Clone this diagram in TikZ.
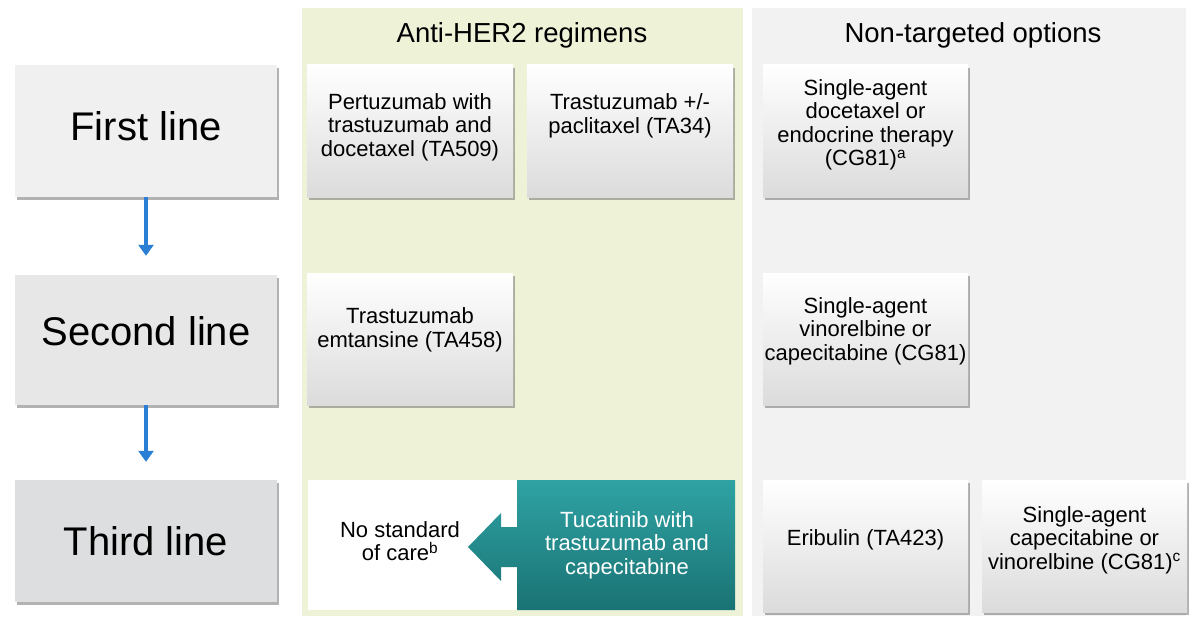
\documentclass[tikz,border=0pt]{standalone}
\usepackage{fontspec}
\setmainfont{Liberation Sans}
\usetikzlibrary{shadows,arrows.meta}
\definecolor{panelgreen}{HTML}{EEF3D8}
\definecolor{panelgray}{HTML}{F2F2F2}
\definecolor{lineone}{HTML}{F0F0F0}
\definecolor{linetwo}{HTML}{E7E7E7}
\definecolor{linethree}{HTML}{DCDEDF}
\definecolor{flowblue}{HTML}{2A7FD4}
\definecolor{tealtop}{HTML}{2FA2A3}
\definecolor{tealbot}{HTML}{1A7374}
\begin{document}
\begin{tikzpicture}[x=1pt,y=-1pt,
  panel/.style={draw=none},
  shadowed/.style={drop shadow={shadow xshift=1.5pt,shadow yshift=-3pt,opacity=.5,fill=black!60}},
  card/.style={rectangle,draw=none,inner sep=0pt,minimum width=206pt,minimum height=132pt,
    top color=white,middle color=white,bottom color=black!14,shadowed},
  linebox/.style={rectangle,draw=none,inner sep=0pt,minimum width=262pt,shadowed},
  linetxt/.style={inner sep=0pt,font=\fontsize{40}{46}\selectfont},
  txt/.style={align=center,inner sep=0pt,font=\fontsize{22}{23.5}\selectfont},
  head/.style={anchor=base,inner sep=0pt,font=\fontsize{27.5}{32}\selectfont},
  flow/.style={draw=flowblue,line width=3.5pt,-{Triangle[width=15pt,length=11pt]}}
]
\useasboundingbox (0,0) rectangle (1190,623);
\fill[white] (0,0) rectangle (1190,623);
% panels
\fill[panelgreen] (302,8) rectangle (743,616);
\fill[panelgray] (752,8) rectangle (1186,616);
\node[head] (hher) at (522,43) {Anti-HER2 regimens};
\node[head] (hnon) at (973,43) {Non-targeted options};
% line boxes
\node[linebox,fill=lineone,minimum height=132pt] (first) at (146,131) {};
\node[linebox,fill=linetwo,minimum height=130pt] (second) at (146,340) {};
\node[linebox,fill=linethree,minimum height=122pt] (third) at (146,541) {};
\node[linetxt] (firstt) at (146,126) {First line};
\node[linetxt] (secondt) at (146,331) {Second line};
\node[linetxt] (thirdt) at (146,541) {Third line};
\draw[flow,shorten >=19pt] (first) -- (second);
\draw[flow,shorten >=18pt] (second) -- (third);
% anti-HER2 cards
\node[card] (pert) at (410,131) {};
\node[txt] (pertt) at (410,127) {Pertuzumab with\\trastuzumab and\\docetaxel (TA509)};
\node[card] (tras) at (630,131) {};
\node[txt] (trast) at (630,116) {Trastuzumab +/-\\paclitaxel (TA34)};
\node[card] (emt) at (410,339) {};
\node[txt] (emtt) at (410,330) {Trastuzumab\\emtansine (TA458)};
% third line anti-HER2
\fill[white] (308,480) rectangle (517,610);
\node[txt] (nosoc) at (400,541) {No standard\\of care\textsuperscript{b}};
\shade[top color=tealtop,bottom color=tealbot]
  (735,480) -- (517,480) -- (517,527) -- (501,527) -- (501,513) -- (468,547)
  -- (501,581) -- (501,567) -- (517,567) -- (517,610) -- (735,610) -- cycle;
\node[txt,text=white] (tuca) at (627,545) {Tucatinib with\\trastuzumab and\\capecitabine};
% non-targeted cards
\node[card,minimum width=205pt] (doc) at (865.5,131) {};
\node[txt] (doct) at (865.5,125) {Single-agent\\docetaxel or\\endocrine therapy\\(CG81)\textsuperscript{a}};
\node[card,minimum width=205pt] (vin) at (865.5,339) {};
\node[txt] (vint) at (865.5,331) {Single-agent\\vinorelbine or\\capecitabine (CG81)};
\node[card,minimum width=205pt] (eri) at (865.5,546) {};
\node[txt] (erit) at (865.5,540) {Eribulin (TA423)};
\node[card,minimum width=205pt] (cape) at (1084.5,546) {};
\node[txt] (capet) at (1084.5,540) {Single-agent\\capecitabine or\\vinorelbine (CG81)\textsuperscript{c}};
\end{tikzpicture}
\end{document}
